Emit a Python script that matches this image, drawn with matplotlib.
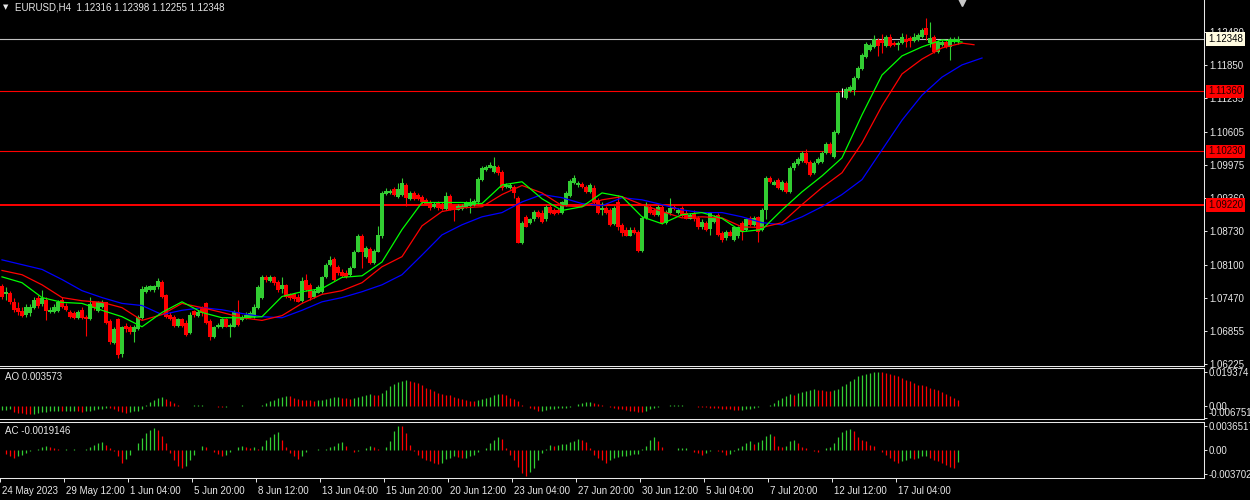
import numpy as np
import matplotlib
matplotlib.use('Agg')
import matplotlib.pyplot as plt
import matplotlib.transforms as mtransforms

plt.rcParams['font.family'] = ['Liberation Sans', 'DejaVu Sans']

# EURUSD H4, one row per 10 bars
opens = [
    1.0769, 1.0754, 1.0757, 1.0739, 1.0729, 1.0722, 1.0716, 1.0718, 1.0729, 1.0748,
    1.0735, 1.0744, 1.0720, 1.0720, 1.0722, 1.0744, 1.0733, 1.0720, 1.0718, 1.0710,
    1.0725, 1.0712, 1.0707, 1.0739, 1.0722, 1.0731, 1.0739, 1.0703, 1.0663, 1.0707,
    1.0641, 1.0695, 1.0693, 1.0684, 1.0688, 1.0710, 1.0759, 1.0763, 1.0763, 1.0767,
    1.0778, 1.0752, 1.0716, 1.0712, 1.0695, 1.0707, 1.0701, 1.0682, 1.0722, 1.0714,
    1.0729, 1.0737, 1.0703, 1.0673, 1.0692, 1.0692, 1.0707, 1.0693, 1.0693, 1.0720,
    1.0705, 1.0710, 1.0712, 1.0712, 1.0729, 1.0748, 1.0787, 1.0780, 1.0786, 1.0778,
    1.0765, 1.0771, 1.0754, 1.0754, 1.0750, 1.0742, 1.0782, 1.0772, 1.0750, 1.0757,
    1.0759, 1.0786, 1.0810, 1.0821, 1.0806, 1.0797, 1.0795, 1.0791, 1.0804, 1.0834,
    1.0864, 1.0825, 1.0840, 1.0814, 1.0834, 1.0863, 1.0943, 1.0945, 1.0953, 1.0938,
    1.0942, 1.0960, 1.0934, 1.0945, 1.0942, 1.0938, 1.0932, 1.0928, 1.0919, 1.0927,
    1.0925, 1.0915, 1.0940, 1.0921, 1.0913, 1.0915, 1.0919, 1.0921, 1.0923, 1.0927,
    1.0970, 1.0989, 1.0992, 1.0985, 1.0994, 1.0985, 1.0957, 1.0955, 1.0957, 1.0936,
    1.0851, 1.0900, 1.0889, 1.0895, 1.0910, 1.0908, 1.0895, 1.0919, 1.0913, 1.0913,
    1.0908, 1.0923, 1.0940, 1.0964, 1.0959, 1.0962, 1.0957, 1.0947, 1.0955, 1.0932,
    1.0912, 1.0917, 1.0913, 1.0887, 1.0928, 1.0885, 1.0876, 1.0864, 1.0876, 1.0872,
    1.0836, 1.0898, 1.0919, 1.0913, 1.0904, 1.0919, 1.0889, 1.0908, 1.0919, 1.0908,
    1.0917, 1.0908, 1.0896, 1.0908, 1.0898, 1.0880, 1.0889, 1.0878, 1.0891, 1.0904,
    1.0870, 1.0861, 1.0872, 1.0857, 1.0863, 1.0889, 1.0876, 1.0898, 1.0885, 1.0900,
    1.0876, 1.0913, 1.0974, 1.0960, 1.0970, 1.0951, 1.0964, 1.0947, 1.0991, 1.1000,
    1.1005, 1.1020, 1.1004, 1.0983, 1.1002, 1.1004, 1.1020, 1.1037, 1.1013, 1.1058,
    1.1137, 1.1124, 1.1137, 1.1139, 1.1161, 1.1178, 1.1201, 1.1214, 1.1220, 1.1233,
    1.1233, 1.1222, 1.1239, 1.1227, 1.1224, 1.1227, 1.1235, 1.1237, 1.1231, 1.1233,
    1.1239, 1.1256, 1.1227, 1.1239, 1.1210, 1.1224, 1.1229, 1.1220, 1.1229, 1.12316,
]
highs = [
    1.0774, 1.0767, 1.0761, 1.0748, 1.0740, 1.0731, 1.0735, 1.0735, 1.0750, 1.0752,
    1.0763, 1.0750, 1.0731, 1.0735, 1.0744, 1.0750, 1.0737, 1.0724, 1.0722, 1.0724,
    1.0731, 1.0716, 1.0750, 1.0742, 1.0742, 1.0744, 1.0740, 1.0707, 1.0693, 1.0710,
    1.0695, 1.0701, 1.0697, 1.0697, 1.0716, 1.0769, 1.0771, 1.0772, 1.0772, 1.0784,
    1.0782, 1.0754, 1.0720, 1.0716, 1.0710, 1.0710, 1.0705, 1.0720, 1.0725, 1.0724,
    1.0733, 1.0740, 1.0707, 1.0695, 1.0701, 1.0710, 1.0710, 1.0701, 1.0724, 1.0744,
    1.0716, 1.0720, 1.0722, 1.0735, 1.0771, 1.0791, 1.0791, 1.0791, 1.0789, 1.0782,
    1.0787, 1.0774, 1.0757, 1.0757, 1.0754, 1.0787, 1.0793, 1.0776, 1.0765, 1.0771,
    1.0789, 1.0814, 1.0827, 1.0825, 1.0810, 1.0801, 1.0799, 1.0808, 1.0838, 1.0868,
    1.0868, 1.0846, 1.0844, 1.0840, 1.0883, 1.0949, 1.0955, 1.0953, 1.0957, 1.0964,
    1.0974, 1.0964, 1.0949, 1.0949, 1.0945, 1.0942, 1.0936, 1.0932, 1.0928, 1.0930,
    1.0928, 1.0947, 1.0943, 1.0925, 1.0925, 1.0925, 1.0930, 1.0936, 1.0934, 1.0975,
    1.0996, 1.0998, 1.1004, 1.1013, 1.0998, 1.0989, 1.0964, 1.0964, 1.0960, 1.0940,
    1.0893, 1.0904, 1.0898, 1.0913, 1.0913, 1.0912, 1.0923, 1.0923, 1.0917, 1.0917,
    1.0930, 1.0949, 1.0972, 1.0979, 1.0968, 1.0966, 1.0960, 1.0964, 1.0959, 1.0936,
    1.0928, 1.0921, 1.0917, 1.0921, 1.0942, 1.0889, 1.0880, 1.0880, 1.0880, 1.0876,
    1.0902, 1.0928, 1.0923, 1.0917, 1.0923, 1.0923, 1.0913, 1.0936, 1.0923, 1.0917,
    1.0921, 1.0912, 1.0908, 1.0912, 1.0902, 1.0895, 1.0893, 1.0910, 1.0904, 1.0908,
    1.0874, 1.0876, 1.0876, 1.0883, 1.0883, 1.0893, 1.0898, 1.0902, 1.0902, 1.0902,
    1.0917, 1.0977, 1.0977, 1.0970, 1.0974, 1.0970, 1.0968, 1.0996, 1.1005, 1.1013,
    1.1024, 1.1028, 1.1007, 1.1005, 1.1013, 1.1024, 1.1041, 1.1041, 1.1064, 1.1137,
    1.1143, 1.1144, 1.1148, 1.1165, 1.1184, 1.1208, 1.1229, 1.1227, 1.1242, 1.1237,
    1.1244, 1.1242, 1.1244, 1.1231, 1.1231, 1.1246, 1.1244, 1.1240, 1.1246, 1.1246,
    1.1256, 1.1274, 1.1267, 1.1242, 1.1233, 1.1233, 1.1233, 1.1239, 1.1239, 1.12398,
]
lows = [
    1.0746, 1.0744, 1.0735, 1.0720, 1.0716, 1.0712, 1.0712, 1.0714, 1.0727, 1.0729,
    1.0733, 1.0705, 1.0718, 1.0718, 1.0720, 1.0729, 1.0722, 1.0710, 1.0707, 1.0707,
    1.0707, 1.0675, 1.0705, 1.0725, 1.0720, 1.0729, 1.0699, 1.0661, 1.0660, 1.0635,
    1.0637, 1.0684, 1.0680, 1.0665, 1.0686, 1.0708, 1.0757, 1.0761, 1.0759, 1.0765,
    1.0748, 1.0710, 1.0705, 1.0693, 1.0693, 1.0692, 1.0675, 1.0680, 1.0712, 1.0712,
    1.0714, 1.0699, 1.0669, 1.0671, 1.0690, 1.0690, 1.0692, 1.0673, 1.0692, 1.0695,
    1.0703, 1.0708, 1.0710, 1.0710, 1.0727, 1.0746, 1.0778, 1.0778, 1.0772, 1.0759,
    1.0757, 1.0748, 1.0744, 1.0742, 1.0739, 1.0740, 1.0761, 1.0744, 1.0748, 1.0756,
    1.0757, 1.0784, 1.0808, 1.0780, 1.0791, 1.0786, 1.0784, 1.0789, 1.0803, 1.0833,
    1.0804, 1.0823, 1.0812, 1.0812, 1.0833, 1.0861, 1.0942, 1.0943, 1.0940, 1.0936,
    1.0940, 1.0921, 1.0932, 1.0932, 1.0932, 1.0925, 1.0923, 1.0913, 1.0917, 1.0913,
    1.0912, 1.0913, 1.0912, 1.0893, 1.0912, 1.0913, 1.0917, 1.0908, 1.0921, 1.0925,
    1.0968, 1.0987, 1.0991, 1.0983, 1.0979, 1.0951, 1.0955, 1.0953, 1.0936, 1.0850,
    1.0848, 1.0880, 1.0887, 1.0893, 1.0898, 1.0889, 1.0893, 1.0906, 1.0904, 1.0906,
    1.0906, 1.0921, 1.0938, 1.0962, 1.0957, 1.0955, 1.0945, 1.0945, 1.0925, 1.0906,
    1.0904, 1.0906, 1.0883, 1.0885, 1.0876, 1.0863, 1.0863, 1.0863, 1.0868, 1.0834,
    1.0834, 1.0896, 1.0906, 1.0902, 1.0902, 1.0887, 1.0887, 1.0904, 1.0913, 1.0906,
    1.0900, 1.0895, 1.0895, 1.0893, 1.0878, 1.0878, 1.0874, 1.0866, 1.0889, 1.0863,
    1.0853, 1.0857, 1.0863, 1.0855, 1.0861, 1.0857, 1.0874, 1.0883, 1.0883, 1.0853,
    1.0874, 1.0895, 1.0964, 1.0959, 1.0953, 1.0949, 1.0945, 1.0945, 1.0989, 1.0998,
    1.1004, 1.1000, 1.0977, 1.0981, 1.1000, 1.1002, 1.1019, 1.1019, 1.1011, 1.1056,
    1.1126, 1.1122, 1.1135, 1.1129, 1.1160, 1.1176, 1.1199, 1.1212, 1.1218, 1.1203,
    1.1208, 1.1220, 1.1220, 1.1222, 1.1214, 1.1225, 1.1220, 1.1220, 1.1229, 1.1231,
    1.1237, 1.1233, 1.1220, 1.1208, 1.1208, 1.1222, 1.1218, 1.1195, 1.1227, 1.12255,
]
closes = [
    1.0750, 1.0759, 1.0739, 1.0725, 1.0720, 1.0714, 1.0731, 1.0731, 1.0744, 1.0733,
    1.0748, 1.0722, 1.0725, 1.0731, 1.0740, 1.0731, 1.0725, 1.0712, 1.0710, 1.0720,
    1.0710, 1.0707, 1.0735, 1.0729, 1.0739, 1.0739, 1.0701, 1.0665, 1.0688, 1.0639,
    1.0692, 1.0688, 1.0684, 1.0693, 1.0712, 1.0765, 1.0767, 1.0769, 1.0769, 1.0780,
    1.0750, 1.0712, 1.0708, 1.0695, 1.0707, 1.0695, 1.0678, 1.0716, 1.0716, 1.0720,
    1.0718, 1.0701, 1.0673, 1.0692, 1.0697, 1.0707, 1.0693, 1.0697, 1.0720, 1.0697,
    1.0712, 1.0716, 1.0718, 1.0731, 1.0767, 1.0787, 1.0782, 1.0787, 1.0776, 1.0763,
    1.0772, 1.0750, 1.0748, 1.0746, 1.0740, 1.0780, 1.0763, 1.0748, 1.0761, 1.0767,
    1.0786, 1.0810, 1.0818, 1.0782, 1.0795, 1.0789, 1.0787, 1.0804, 1.0834, 1.0864,
    1.0833, 1.0842, 1.0814, 1.0836, 1.0866, 1.0945, 1.0949, 1.0949, 1.0942, 1.0953,
    1.0964, 1.0936, 1.0945, 1.0934, 1.0934, 1.0927, 1.0925, 1.0917, 1.0925, 1.0917,
    1.0915, 1.0940, 1.0913, 1.0912, 1.0921, 1.0921, 1.0927, 1.0927, 1.0930, 1.0972,
    1.0992, 1.0994, 1.0998, 1.0996, 1.0983, 1.0955, 1.0960, 1.0960, 1.0945, 1.0851,
    1.0889, 1.0881, 1.0895, 1.0910, 1.0900, 1.0891, 1.0919, 1.0908, 1.0906, 1.0908,
    1.0927, 1.0945, 1.0968, 1.0974, 1.0964, 1.0957, 1.0947, 1.0960, 1.0927, 1.0908,
    1.0917, 1.0908, 1.0885, 1.0917, 1.0881, 1.0870, 1.0864, 1.0876, 1.0870, 1.0836,
    1.0898, 1.0921, 1.0908, 1.0904, 1.0919, 1.0889, 1.0910, 1.0917, 1.0915, 1.0913,
    1.0902, 1.0896, 1.0904, 1.0895, 1.0880, 1.0891, 1.0876, 1.0908, 1.0900, 1.0866,
    1.0857, 1.0872, 1.0864, 1.0880, 1.0880, 1.0872, 1.0895, 1.0885, 1.0898, 1.0872,
    1.0913, 1.0974, 1.0966, 1.0966, 1.0955, 1.0966, 1.0947, 1.0992, 1.1002, 1.1009,
    1.1020, 1.1002, 1.0979, 1.1002, 1.1009, 1.1020, 1.1037, 1.1020, 1.1060, 1.1133,
    1.1137, 1.1141, 1.1144, 1.1161, 1.1180, 1.1205, 1.1225, 1.1224, 1.1235, 1.1222,
    1.1227, 1.1239, 1.1222, 1.1224, 1.1227, 1.1239, 1.1229, 1.1231, 1.1239, 1.1242,
    1.1252, 1.1242, 1.1237, 1.1210, 1.1229, 1.1229, 1.1220, 1.1235, 1.1235, 1.12348,
]

# Alligator lines read every 5 bars (jaw and teeth are shifted ahead of price)
jaw_bars = list(range(0, 250, 5))
jaw = [1.0819, 1.0810, 1.0801, 1.0782, 1.0761, 1.0748, 1.0737, 1.0733, 1.0716, 1.0724,
       1.0729, 1.0725, 1.0718, 1.0712, 1.0710, 1.0724, 1.0740, 1.0748, 1.0759, 1.0772,
       1.0791, 1.0828, 1.0866, 1.0885, 1.0900, 1.0908, 1.0928, 1.0942, 1.0936, 1.0925,
       1.0921, 1.0936, 1.0932, 1.0923, 1.0913, 1.0908, 1.0908, 1.0900, 1.0889, 1.0885,
       1.0900, 1.0919, 1.0942, 1.0970, 1.1026, 1.1082, 1.1129, 1.1163, 1.1186, 1.1199]
teeth_bars = list(range(0, 245, 5)) + [243]
teeth = [1.0799, 1.0791, 1.0772, 1.0748, 1.0742, 1.0739, 1.0729, 1.0705, 1.0716, 1.0737,
         1.0729, 1.0720, 1.0710, 1.0705, 1.0714, 1.0737, 1.0754, 1.0761, 1.0776, 1.0806,
         1.0825, 1.0883, 1.0910, 1.0917, 1.0919, 1.0942, 1.0959, 1.0945, 1.0921, 1.0919,
         1.0932, 1.0938, 1.0923, 1.0910, 1.0898, 1.0900, 1.0898, 1.0881, 1.0880, 1.0889,
         1.0923, 1.0955, 1.0983, 1.1039, 1.1109, 1.1169, 1.1197, 1.1218, 1.1227, 1.1224]
lips_bars = list(range(0, 245, 5))
lips = [1.0787, 1.0776, 1.0748, 1.0739, 1.0737, 1.0724, 1.0712, 1.0693, 1.0720, 1.0740,
        1.0720, 1.0710, 1.0710, 1.0712, 1.0750, 1.0759, 1.0765, 1.0786, 1.0789, 1.0815,
        1.0876, 1.0927, 1.0927, 1.0927, 1.0925, 1.0960, 1.0966, 1.0934, 1.0912, 1.0919,
        1.0945, 1.0938, 1.0900, 1.0887, 1.0904, 1.0908, 1.0897, 1.0872, 1.0876, 1.0913,
        1.0947, 1.0977, 1.1011, 1.1092, 1.1167, 1.1203, 1.1220, 1.1233, 1.1229]

# Awesome Oscillator
ao = [
    -0.00223, -0.00205, -0.00186, -0.00372, -0.00409, -0.00428, -0.00465, -0.00484, -0.00465, -0.00409,
    -0.00372, -0.00335, -0.00316, -0.00298, -0.00279, -0.00316, -0.00298, -0.00279, -0.00260, -0.00298,
    -0.00335, -0.00316, -0.00260, -0.00223, -0.00186, -0.00149, -0.00112, -0.00130, -0.00186, -0.00279,
    -0.00372, -0.00391, -0.00353, -0.00316, -0.00260, -0.00149, 0.00037, 0.00242, 0.00353, 0.00446,
    0.00484, 0.00372, 0.00279, 0.00167, 0.00056, 0.00019, 0.0, 0.00019, 0.00037, 0.00056,
    0.00074, 0.00019, 0.0, -0.00019, -0.00037, -0.00056, -0.00037, -0.00019, 0.0, 0.00019,
    0.00037, 0.00019, 0.0, -0.00019, 0.00019, 0.00056, 0.00149, 0.00260, 0.00353, 0.00446,
    0.00521, 0.00577, 0.00539, 0.00446, 0.00391, 0.00353, 0.00335, 0.00316, 0.00298, 0.00316,
    0.00353, 0.00391, 0.00428, 0.00484, 0.00521, 0.00465, 0.00428, 0.00409, 0.00446, 0.00502,
    0.00558, 0.00614, 0.00651, 0.00614, 0.00595, 0.00744, 0.00893, 0.01116, 0.01265, 0.01376,
    0.01432, 0.01451, 0.01395, 0.01358, 0.01302, 0.01209, 0.01023, 0.00930, 0.00837, 0.00744,
    0.00688, 0.00614, 0.00595, 0.00521, 0.00465, 0.00409, 0.00335, 0.00298, 0.00279, 0.00335,
    0.00372, 0.00428, 0.00521, 0.00595, 0.00688, 0.00651, 0.00595, 0.00465, 0.00372, 0.00279,
    0.00056, 0.0, -0.00093, -0.00186, -0.00279, -0.00260, -0.00223, -0.00186, -0.00149, -0.00130,
    -0.00112, -0.00093, -0.00056, 0.0, 0.00093, 0.00149, 0.00223, 0.00242, 0.00186, 0.00093,
    0.00037, 0.0, -0.00037, -0.00093, -0.00149, -0.00186, -0.00223, -0.00279, -0.00316, -0.00335,
    -0.00372, -0.00279, -0.00186, -0.00130, -0.00056, 0.0, 0.00019, 0.00037, 0.00047, 0.00056,
    0.00074, 0.00019, 0.0, -0.00019, -0.00037, -0.00056, -0.00074, -0.00093, -0.00112, -0.00130,
    -0.00149, -0.00167, -0.00186, -0.00223, -0.00242, -0.00223, -0.00186, -0.00149, -0.00112, -0.00074,
    -0.00019, 0.0, 0.00074, 0.00186, 0.00335, 0.00465, 0.00558, 0.00670, 0.00632, 0.00707,
    0.00781, 0.00837, 0.00893, 0.00930, 0.00911, 0.00874, 0.00837, 0.00818, 0.00893, 0.00967,
    0.01116, 0.01265, 0.01395, 0.01544, 0.01674, 0.01767, 0.01823, 0.01860, 0.01897, 0.019374,
    0.01916, 0.01860, 0.01804, 0.01767, 0.01674, 0.01581, 0.01488, 0.01395, 0.01302, 0.01209,
    0.01153, 0.01116, 0.01023, 0.00967, 0.00893, 0.00781, 0.00688, 0.00558, 0.00465, 0.003573,
]
# Accelerator Oscillator
ac = [
    -0.00010, -0.00061, -0.00101, -0.00117, -0.00101, -0.00076, -0.00051, -0.00025, -0.00010, 0.00010,
    0.00041, 0.00051, 0.00041, 0.00020, 0.00010, 0.0, 0.00005, -0.00005, 0.00005, 0.0,
    -0.00005, 0.00010, 0.00041, 0.00076, 0.00101, 0.00117, 0.00076, 0.00025, -0.00025, -0.00101,
    -0.00193, -0.00142, -0.00076, -0.00010, 0.00101, 0.00177, 0.00254, 0.00294, 0.00330, 0.00304,
    0.00203, 0.00101, -0.00051, -0.00152, -0.00243, -0.00269, -0.00243, -0.00162, -0.00076, -0.00010,
    0.00061, 0.00041, -0.00010, -0.00030, -0.00061, -0.00091, -0.00076, -0.00030, 0.0, 0.00041,
    0.00061, 0.00041, 0.00025, 0.00041, 0.00010, 0.00061, 0.00142, 0.00193, 0.00243, 0.00264,
    0.00152, 0.00041, -0.00051, -0.00101, -0.00132, -0.00101, -0.00041, -0.00010, 0.0, 0.00005,
    -0.00005, 0.00010, 0.00041, 0.00061, 0.00101, 0.00122, 0.00061, 0.0, -0.00041, -0.00020,
    0.0, 0.00025, 0.00061, 0.00041, 0.00010, -0.00010, 0.00041, 0.00137, 0.00279, 0.00365,
    0.00355, 0.00254, 0.00076, -0.00025, -0.00076, -0.00127, -0.00152, -0.00177, -0.00203, -0.00213,
    -0.00193, -0.00142, -0.00127, -0.00101, -0.00112, -0.00127, -0.00117, -0.00101, -0.00076, -0.00041,
    -0.00010, 0.00025, 0.00101, 0.00152, 0.00193, 0.00162, 0.00025, -0.00076, -0.00152, -0.00254,
    -0.00355, -0.00390, -0.00330, -0.00279, -0.00152, -0.00051, 0.00010, 0.00076, 0.00061, 0.00071,
    0.00081, 0.00091, 0.00112, 0.00132, 0.00162, 0.00152, 0.00112, 0.00025, -0.00076, -0.00127,
    -0.00162, -0.00193, -0.00152, -0.00127, -0.00112, -0.00101, -0.00091, -0.00081, -0.00071, -0.00061,
    0.00010, 0.00061, 0.00142, 0.00193, 0.00127, 0.00041, 0.0, -0.00010, -0.00005, 0.00020,
    0.00020, 0.00025, -0.00010, -0.00030, -0.00051, -0.00076, -0.00051, -0.00025, -0.00010, -0.00025,
    -0.00041, -0.00076, -0.00061, -0.00025, 0.00025, 0.00051, 0.00101, 0.00127, 0.00091, 0.00112,
    0.00152, 0.00203, 0.00243, 0.00203, 0.00061, 0.00041, 0.00061, 0.00127, 0.00152, 0.00101,
    0.00041, 0.00020, -0.00010, -0.00025, -0.00041, -0.00010, 0.00025, 0.00041, 0.00101, 0.00193,
    0.00264, 0.00304, 0.00319, 0.00279, 0.00193, 0.00152, 0.00127, 0.00076, 0.00051, 0.0,
    -0.00041, -0.00076, -0.00127, -0.00177, -0.00203, -0.00177, -0.00152, -0.00127, -0.00142, -0.00127,
    -0.00101, -0.00091, -0.00127, -0.00152, -0.00177, -0.00203, -0.00228, -0.00254, -0.00269, -0.0019146,
]

price_ticks = [1.12480, 1.11850, 1.11235, 1.10605, 1.09975, 1.09360,
               1.08730, 1.08100, 1.07470, 1.06855, 1.06225]
levels = [1.11360, 1.10230, 1.09220]
bid = 1.12348
ao_ticks = [0.019374, 0.0, -0.006751]
ao_tick_labels = ['0.019374', '0.00', '-0.006751']
ac_ticks = [0.0036517, 0.0, -0.003702]
ac_tick_labels = ['0.0036517', '0.00', '-0.003702']
date_labels = ['24 May 2023', '29 May 12:00', '1 Jun 04:00', '5 Jun 20:00', '8 Jun 12:00',
               '13 Jun 04:00', '15 Jun 20:00', '20 Jun 12:00', '23 Jun 04:00', '27 Jun 20:00',
               '30 Jun 12:00', '5 Jul 04:00', '7 Jul 20:00', '12 Jul 12:00', '17 Jul 04:00']
header = 'EURUSD,H4  1.12316 1.12398 1.12255 1.12348'

BG = '#000000'
FG = '#e8e8e8'
UP = '#32cd32'
DN = '#ff0000'
FS = 7

fig = plt.figure(figsize=(12.5, 5), dpi=100, facecolor=BG)
W = 1203.5 / 1250
ax = fig.add_axes([0, 1 - 365.5 / 500, W, 365.5 / 500])
ax_ao = fig.add_axes([0, 1 - 419 / 500, W, 51.5 / 500])
ax_ac = fig.add_axes([0, 1 - 478 / 500, W, 56.5 / 500])

xmax = 1203.5 / 4 - 0.5
for a in (ax, ax_ao, ax_ac):
    a.set_facecolor(BG)
    a.set_xlim(-0.5, xmax)
    a.spines['left'].set_visible(False)
    for s in ('right', 'top', 'bottom'):
        a.spines[s].set_color(FG)
        a.spines[s].set_linewidth(0.75)
    a.yaxis.tick_right()
    a.tick_params(axis='y', colors=FG, labelsize=FS, length=2.5, width=0.7, pad=2)
    a.tick_params(axis='x', colors=FG, labelsize=FS)
ax.spines['top'].set_visible(False)
for a in (ax_ao, ax_ac):
    a.tick_params(axis='y', pad=1.2)

# --- main price window ---
o = np.array(opens)
h = np.array(highs)
l = np.array(lows)
c = np.array(closes)
x = np.arange(len(c))
cols = np.where(c > o, UP, np.where(c < o, DN, '#ffffff'))

ax.axhline(bid, color='#c0c0c0', lw=0.8, zorder=1)
for i, p in enumerate(levels):
    ax.axhline(p, color=DN, lw=1.4 if i == 2 else 0.8, zorder=1)

ax.vlines(x, l, h, colors=cols, lw=0.8, zorder=2)
ax.bar(x, np.maximum(np.abs(c - o), 0.00008), bottom=np.minimum(o, c),
       width=0.78, color=cols, linewidth=0, zorder=2)

ax.plot(jaw_bars, jaw, color='#0000ff', lw=0.9, zorder=3)
ax.plot(teeth_bars, teeth, color='#ff0000', lw=0.9, zorder=3)
ax.plot(lips_bars, lips, color='#00ff00', lw=0.9, zorder=3)

ax.set_ylim(1.06201, 1.13082)
ax.set_yticks(price_ticks, [f'{p:.5f}' for p in price_ticks])
ax.set_xticks([])

box_x = 1208 / 1203.5
ax.text(box_x, bid, f'{bid:.5f}', transform=ax.get_yaxis_transform(), ha='left', va='center',
        fontsize=FS, color='#000000', zorder=10, clip_on=False,
        bbox=dict(boxstyle='square,pad=0.2', fc='#fffbe0', ec='none'))
for p in levels:
    ax.text(box_x, p, f'{p:.5f}', transform=ax.get_yaxis_transform(), ha='left', va='center',
            fontsize=FS, color='#200000', zorder=10, clip_on=False,
            bbox=dict(boxstyle='square,pad=0.2', fc=DN, ec='none'))

ax.text(3 / 1203.5, 1 - 7 / 365.5, '▼', transform=ax.transAxes, fontsize=5,
        color=FG, ha='left', va='center', family=['DejaVu Sans'])
ax.text(15 / 1203.5, 1 - 7 / 365.5, header, transform=ax.transAxes, fontsize=FS,
        color=FG, ha='left', va='center')
ax.plot([962 / 1203.5], [0.998], marker='v', ms=7, color='#c8c8c8',
        transform=ax.transAxes, clip_on=False)


def bar_colors(v):
    out = []
    prev = UP
    for i in range(len(v)):
        if i > 0 and v[i] > v[i - 1]:
            prev = UP
        elif i > 0 and v[i] < v[i - 1]:
            prev = DN
        out.append(prev)
    out[0] = out[1]
    return out


# --- AO window ---
ao_v = np.array(ao)
ax_ao.vlines(np.arange(len(ao_v)) + len(c) - len(ao_v), 0, ao_v, colors=bar_colors(ao_v), lw=0.9)
ax_ao.set_ylim(-0.0074, 0.0217)
ax_ao.set_yticks(ao_ticks, ao_tick_labels)
ax_ao.get_yticklabels()[2].set_va('bottom')
ax_ao.set_xticks([])
ax_ao.text(5 / 1203.5, 0.815, f'AO {ao[-1]:.6f}', transform=ax_ao.transAxes,
           fontsize=FS, color=FG, ha='left', va='center')

# --- AC window ---
ac_v = np.array(ac)
ax_ac.vlines(np.arange(len(ac_v)) + len(c) - len(ac_v), 0, ac_v, colors=bar_colors(ac_v), lw=0.9)
ax_ac.set_ylim(-0.00426, 0.00426)
ax_ac.set_yticks(ac_ticks, ac_tick_labels)
ax_ac.text(5 / 1203.5, 0.83, f'AC {ac[-1]:.7f}', transform=ax_ac.transAxes,
           fontsize=FS, color=FG, ha='left', va='center')

tick_pos = [16 * k - 0.5 for k in range(len(date_labels))]
ax_ac.set_xticks(tick_pos, date_labels)
ax_ac.tick_params(axis='x', length=3, width=0.7, pad=2.5, direction='out')
shift = mtransforms.ScaledTranslation(2 / 100, 0, fig.dpi_scale_trans)
for lab in ax_ac.get_xticklabels():
    lab.set_ha('left')
    lab.set_transform(lab.get_transform() + shift)

fig.savefig('out.png', dpi=100, facecolor=BG)
